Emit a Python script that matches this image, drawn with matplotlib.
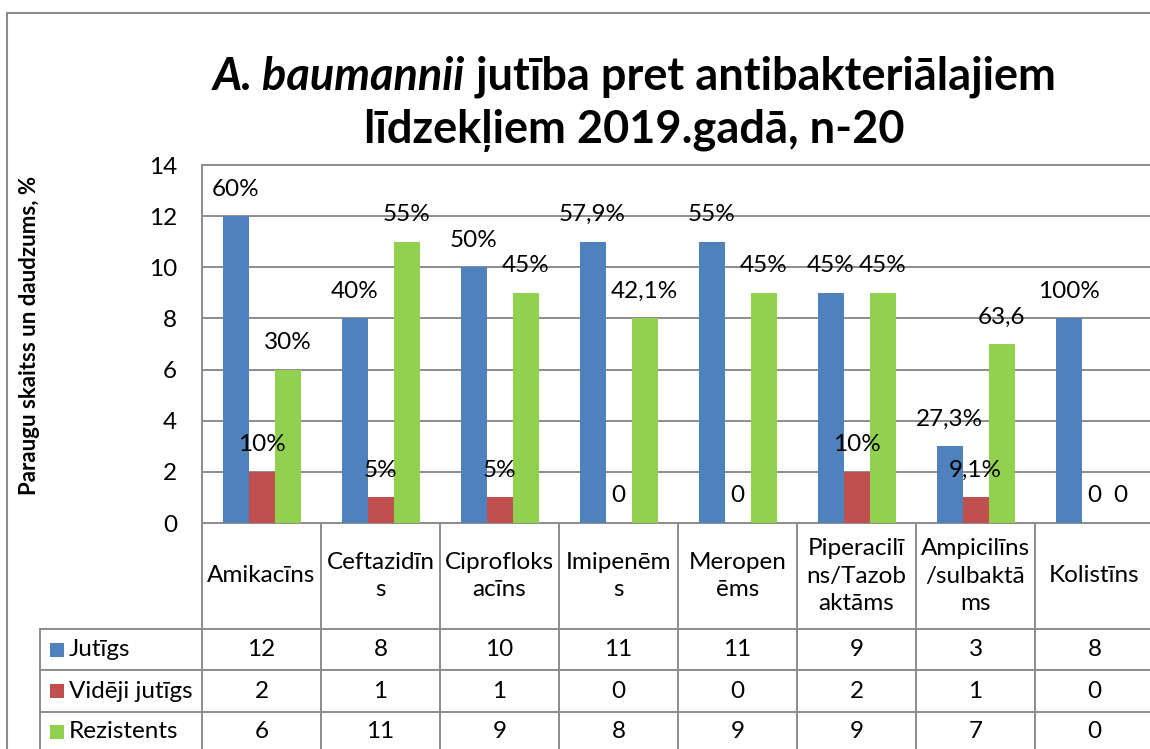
import numpy as np
import matplotlib
matplotlib.use("Agg")
from matplotlib import pyplot as plt
from matplotlib import transforms
from matplotlib.lines import Line2D
from matplotlib.patches import Rectangle

# data
categories = ["Amikacīns", "Ceftazidīn\ns", "Ciprofloks\nacīns", "Imipenēm\ns",
              "Meropen\nēms", "Piperacilī\nns/Tazob\naktāms", "Ampicilīns\n/sulbaktā\nms",
              "Kolistīns"]
series_names = ["Jutīgs", "Vidēji jutīgs", "Rezistents"]
jutigs = [12, 8, 10, 11, 11, 9, 3, 8]
videji = [2, 1, 1, 0, 0, 2, 1, 0]
rezistents = [6, 11, 9, 8, 9, 9, 7, 0]
jutigs_lbl = ["60%", "40%", "50%", "57,9%", "55%", "45%", "27,3%", "100%"]
videji_lbl = ["10%", "5%", "5%", "0", "0", "10%", "9,1%", "0"]
rezistents_lbl = ["30%", "55%", "45%", "42,1%", "45%", "45%", "63,6", "0"]

colors = ["#4F81BD", "#C0504D", "#92D050"]
grid_c = "#8C8C8C"
fs = 17.5

plt.rcParams['font.family'] = ['Lato', 'DejaVu Sans']

W, H = 1150, 749
def fx(px):
    return px / W
def fy(py):
    return 1 - py / H

fig = plt.figure(figsize=(W / 100, H / 100), dpi=100)
fig.patch.set_facecolor('white')

# outer chart border
fig.add_artist(Rectangle((fx(7), fy(800)), 2, fy(13) - fy(800), transform=fig.transFigure,
                         fill=False, edgecolor='#8C8C8C', lw=1.5))

ax = fig.add_axes([fx(202), fy(523), 952 / W, (523 - 165) / H])
n = len(categories)
x = np.arange(n) + 0.5
bw = 26 / 119
all_vals = [jutigs, videji, rezistents]
all_lbls = [jutigs_lbl, videji_lbl, rezistents_lbl]
for k in range(3):
    xs = x + (k - 1) * bw
    ax.bar(xs, all_vals[k], bw, color=colors[k], zorder=3)
    for i in range(n):
        ax.annotate(all_lbls[k][i], xy=(xs[i], all_vals[k][i]), xytext=(0, 19.5),
                    textcoords='offset points', ha='center', va='center', fontsize=fs,
                    annotation_clip=False, zorder=4)

ax.set_xlim(0, n)
ax.set_ylim(0, 14)
ax.set_yticks(range(0, 15, 2))
ax.set_xticks([])
ax.yaxis.grid(True, color=grid_c, lw=1.4, zorder=0)
ax.tick_params(axis='y', length=0, pad=18, labelsize=fs)
for s in ['left', 'top', 'right', 'bottom']:
    ax.spines[s].set_color(grid_c)
    ax.spines[s].set_linewidth(1.4)

fig.text(fx(30), fy(335), "Paraugu skaitss un daudzums, %", rotation=90, ha='center',
         va='center', fontsize=16, fontweight='bold')

# title with italic species name
renderer = fig.canvas.get_renderer()
title_size = 32.5
t1a = fig.text(0, fy(90), "A. baumannii", fontsize=title_size, fontweight='bold',
               fontstyle='italic', va='baseline', ha='left')
t1b = fig.text(0, fy(90), " jutība pret antibakteriālajiem", fontsize=title_size,
               fontweight='bold', va='baseline', ha='left')
wa = t1a.get_window_extent(renderer).width
wb = t1b.get_window_extent(renderer).width
left = 634 - (wa + wb) / 2
t1a.set_x(fx(left))
t1b.set_x(fx(left + wa))
fig.text(fx(634), fy(143), "līdzekļiem 2019.gadā, n-20", fontsize=title_size,
         fontweight='bold', va='baseline', ha='center')

# data table under the axis
trans = transforms.blended_transform_factory(ax.transData, fig.transFigure)
for i in range(n + 1):
    fig.add_artist(Line2D([i, i], [fy(523), fy(760)], transform=trans, color=grid_c,
                          lw=1.4, clip_on=False))
fig.add_artist(Line2D([fx(40), fx(40)], [fy(629), fy(760)], transform=fig.transFigure,
                      color=grid_c, lw=1.4))
row_lines = [629, 670, 712]
for ry in row_lines:
    fig.add_artist(Line2D([fx(40), 1.05], [fy(ry), fy(ry)], transform=fig.transFigure,
                          color=grid_c, lw=1.4))

for i in range(n):
    fig.text(x[i], fy(576), categories[i], transform=trans, ha='center', va='center',
             fontsize=fs, linespacing=1.4, clip_on=False)

row_centers = [650, 691, 732]
for k in range(3):
    cy = row_centers[k]
    fig.add_artist(Rectangle((fx(50), fy(cy + 7)), 14 / W, 14 / H, transform=fig.transFigure,
                             facecolor=colors[k], edgecolor='none'))
    fig.text(fx(69), fy(cy), series_names[k], ha='left', va='center', fontsize=fs)
    for i in range(n):
        fig.text(x[i], fy(cy), str(all_vals[k][i]), transform=trans, ha='center',
                 va='center', fontsize=fs)

fig.savefig("out.png", dpi=100)
